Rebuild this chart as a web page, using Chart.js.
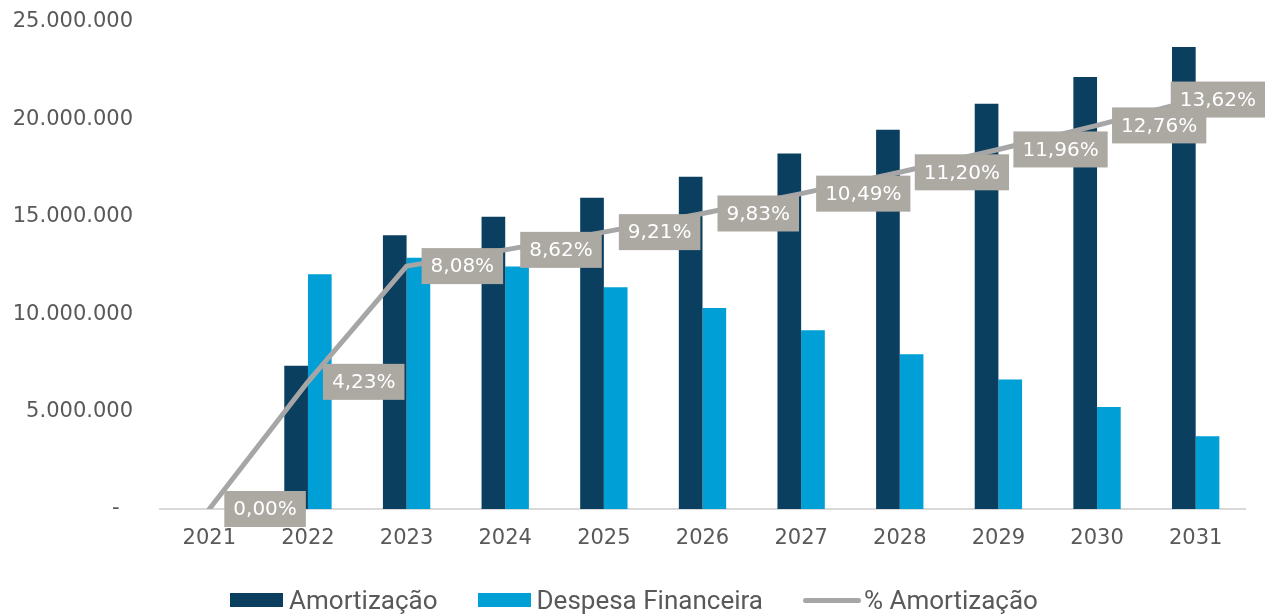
<!DOCTYPE html>
<html>
<head>
<meta charset="utf-8">
<script src="https://cdn.jsdelivr.net/npm/chart.js@4.4.1/dist/chart.umd.min.js"></script>
<style>
    html, body { margin: 0; padding: 0; background: #fff; }
    #wrap { position: relative; width: 1268px; height: 614px; }
    #legend {
        position: absolute; left: 0; right: 0; top: 585px;
        display: flex; justify-content: center; gap: 40px;
        font-family: Roboto, sans-serif; font-size: 26px; color: #595959;
        line-height: 30px;
    }
    #legend .item { display: flex; align-items: center; }
    #legend .caixa { display: inline-block; width: 53px; height: 14px; margin-right: 6px; }
    #legend .linha { display: inline-block; width: 58px; height: 5px; border-radius: 3px; margin-right: 3px; }
</style>
</head>
<body>
<div id="wrap">
    <canvas id="grafico-amortizacao" width="1268" height="614"></canvas>
    <div id="legend"></div>
</div>
<script>
const anos = ['2021', '2022', '2023', '2024', '2025', '2026', '2027', '2028', '2029', '2030', '2031'];
const amortizacao = [0, 7350000, 14050000, 15000000, 15980000, 17060000, 18250000, 19470000, 20800000, 22180000, 23720000];
const despesaFinanceira = [0, 12050000, 12900000, 12450000, 11380000, 10320000, 9180000, 7950000, 6650000, 5230000, 3740000];
const pctAmortizacao = [0, 4.23, 8.08, 8.62, 9.21, 9.83, 10.49, 11.20, 11.96, 12.76, 13.62];

const COR_AMORT = '#0b3f5f';
const COR_DESPESA = '#009fd6';
const COR_LINHA = '#a6a6a6';
const COR_ROTULO = '#aca8a2';

// caixas cinzas com o % ao lado de cada ponto da linha
const rotulosPct = {
    id: 'rotulosPct',
    afterDatasetsDraw(chart) {
        const ctx = chart.ctx;
        const meta = chart.getDatasetMeta(2);
        ctx.save();
        ctx.font = '20px "DejaVu Sans"';
        ctx.textBaseline = 'middle';
        ctx.textAlign = 'left';
        meta.data.forEach((pt, i) => {
            const txt = pctAmortizacao[i].toFixed(2).replace('.', ',') + '%';
            const w = ctx.measureText(txt).width + 18;
            const h = 36;
            let x = pt.x + 15;
            if (x + w > chart.width - 3) x = chart.width - 3 - w;
            ctx.fillStyle = COR_ROTULO;
            ctx.fillRect(x, pt.y - h / 2, w, h);
            ctx.fillStyle = '#ffffff';
            ctx.fillText(txt, x + 9, pt.y + 1);
        });
        ctx.restore();
    }
};

const formatarTick = (v) => {
    if (v === 0) return '-  ';
    return v.toLocaleString('pt-BR');
};

const config = {
    type: 'bar',
    data: {
        labels: anos,
        datasets: [
            {
                label: 'Amortização',
                data: amortizacao,
                backgroundColor: COR_AMORT,
                order: 1
            },
            {
                label: 'Despesa Financeira',
                data: despesaFinanceira,
                backgroundColor: COR_DESPESA,
                order: 1
            },
            {
                type: 'line',
                label: '% Amortização',
                data: pctAmortizacao,
                yAxisID: 'y1',
                borderColor: COR_LINHA,
                borderWidth: 5,
                borderCapStyle: 'round',
                borderJoinStyle: 'round',
                pointRadius: 0,
                tension: 0,
                order: 0
            }
        ]
    },
    options: {
        responsive: false,
        animation: false,
        layout: { padding: { top: 0, right: 23, left: 0, bottom: 0 } },
        datasets: {
            bar: { categoryPercentage: 0.48, barPercentage: 1.0 }
        },
        plugins: {
            legend: { display: false },
            tooltip: { enabled: false }
        },
        scales: {
            x: {
                grid: { display: false, drawTicks: false },
                border: { display: true, color: '#d9d9d9', width: 2 },
                ticks: {
                    color: '#595959',
                    font: { family: 'DejaVu Sans', size: 21 },
                    padding: 17
                },
                afterFit: (s) => { s.height = 105; }
            },
            y: {
                min: 0,
                max: 25000000,
                grid: { display: false, drawTicks: false },
                border: { display: false },
                ticks: {
                    stepSize: 5000000,
                    color: '#595959',
                    font: { family: 'DejaVu Sans', size: 21 },
                    padding: 27,
                    callback: formatarTick
                },
                afterFit: (s) => {
                    s.width = 160;
                    s.paddingTop = 22;
                    s.paddingBottom = 0;
                }
            },
            y1: {
                display: false,
                min: 0,
                max: 16.2
            }
        }
    },
    plugins: [rotulosPct]
};

const ctx = document.getElementById('grafico-amortizacao').getContext('2d');
const chart = new Chart(ctx, config);

// legenda em html, montada a partir dos datasets
const legenda = document.getElementById('legend');
chart.data.datasets.forEach((ds) => {
    const item = document.createElement('span');
    item.className = 'item';
    const marca = document.createElement('i');
    if (ds.type === 'line') {
        marca.className = 'linha';
        marca.style.background = ds.borderColor;
    } else {
        marca.className = 'caixa';
        marca.style.background = ds.backgroundColor;
    }
    item.appendChild(marca);
    item.appendChild(document.createTextNode(ds.label));
    legenda.appendChild(item);
});
</script>
</body>
</html>
